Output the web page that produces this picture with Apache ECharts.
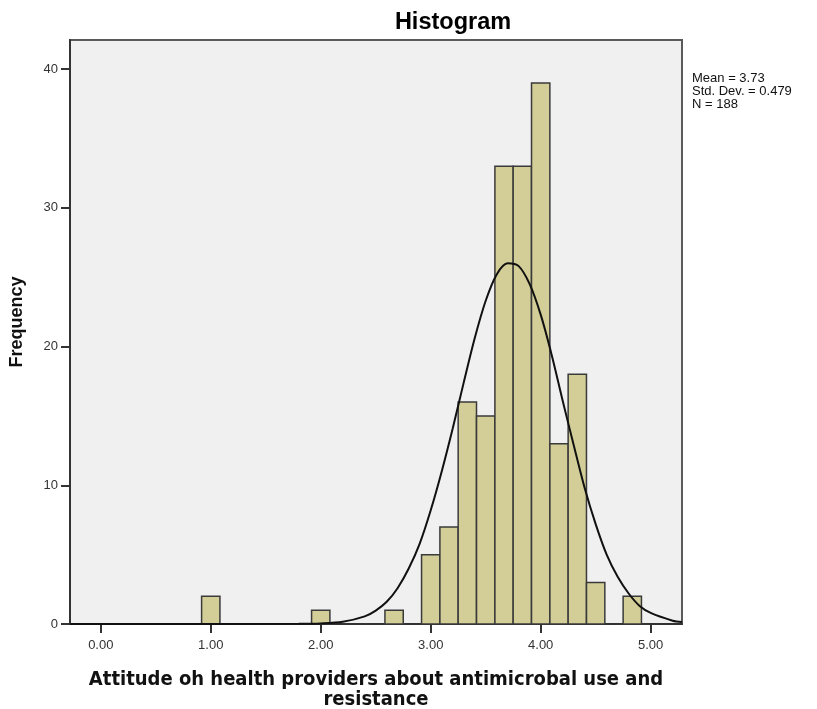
<!DOCTYPE html>
<html>
<head>
<meta charset="utf-8">
<script src="https://cdn.jsdelivr.net/npm/echarts@6/dist/echarts.min.js"></script>
<style>
  html, body { margin: 0; padding: 0; background: #fff; }
  #chart { width: 817px; height: 709px; }
</style>
</head>
<body>
<div id="chart"></div>
<script>
// histogram bins (bin width 1/6)
const binCenters = [1.0, 2.0, 2.667, 3.0, 3.167, 3.333, 3.5, 3.667, 3.833, 4.0, 4.167, 4.333, 4.5, 4.833]
const binCounts = [2, 1, 1, 5, 7, 16, 15, 33, 33, 39, 13, 18, 3, 2]
const binWidth = 1 / 6

// normal curve
const curveX = [-0.28, 1.8, 2.0, 2.2, 2.4, 2.5, 2.6, 2.7, 2.8, 2.9, 3.0, 3.1, 3.2, 3.3, 3.4, 3.5, 3.6, 3.7, 3.8, 3.9, 4.0, 4.1, 4.2, 4.3, 4.4, 4.5, 4.6, 4.7, 4.8, 4.9, 5.0, 5.2, 5.285]
const curveY = [0, 0.01, 0.04, 0.16, 0.55, 0.97, 1.6, 2.6, 4.0, 5.8, 8.2, 11.0, 14.1, 17.4, 20.6, 23.3, 25.2, 26.0, 25.8, 24.5, 22.3, 19.4, 16.1, 12.9, 9.8, 7.2, 5.0, 3.4, 2.2, 1.3, 0.8, 0.24, 0.14]

const xTicks = [0, 1, 2, 3, 4, 5]
const yTicks = [0, 10, 20, 30, 40]

const statsText = ['Mean = 3.73', 'Std. Dev. = 0.479', 'N = 188']

const font = 'Liberation Sans, Arial, sans-serif'

let chart = echarts.init(document.getElementById('chart'))

let option = {
  animation: false,
  backgroundColor: '#ffffff',
  title: {
    text: 'Histogram',
    left: 448,
    top: 6,
    textAlign: 'center',
    textStyle: { fontFamily: font, fontSize: 23.5, fontWeight: 'bold', color: '#000' }
  },
  grid: {
    left: 70,
    top: 40,
    right: 135,
    bottom: 85,
    outerBoundsMode: 'none',
    containLabel: false,
    show: true,
    backgroundColor: '#f0f0f0',
    borderColor: '#5a5a5a',
    borderWidth: 2
  },
  xAxis: {
    type: 'value',
    min: -0.28,
    max: 5.285,
    name: 'Attitude oh health providers about antimicrobal use and\nresistance',
    nameLocation: 'middle',
    nameGap: 46,
    nameTextStyle: { fontFamily: 'DejaVu Sans Condensed, DejaVu Sans, sans-serif', fontSize: 20, fontWeight: 'bold', color: '#111', lineHeight: 20 },
    axisLine: { onZero: false, lineStyle: { color: '#333', width: 2 } },
    axisTick: { customValues: xTicks, length: 9, lineStyle: { color: '#333', width: 2 } },
    axisLabel: {
      customValues: xTicks,
      margin: 15,
      fontFamily: font,
      fontSize: 13,
      color: '#333',
      formatter: (v) => v.toFixed(2)
    },
    splitLine: { show: false }
  },
  yAxis: {
    type: 'value',
    min: 0,
    max: 42.1,
    name: 'Frequency',
    nameLocation: 'middle',
    nameGap: 44,
    nameTextStyle: { fontFamily: font, fontSize: 18, fontWeight: 'bold', color: '#111', padding: [0, 0, 0, 20] },
    axisLine: { onZero: false, lineStyle: { color: '#333', width: 2 } },
    axisTick: { customValues: yTicks, length: 9, lineStyle: { color: '#333', width: 2 } },
    axisLabel: { customValues: yTicks, margin: 12, fontFamily: font, fontSize: 13, color: '#333' },
    splitLine: { show: false }
  },
  graphic: [{
    type: 'text',
    left: 692,
    top: 72,
    style: {
      text: statsText.join('\n'),
      font: '13px ' + font,
      fill: '#111',
      lineHeight: 13
    }
  }],
  series: [
    {
      type: 'custom',
      data: binCenters.map((c, i) => [c, binCounts[i]]),
      renderItem: function (params, api) {
        let c = api.value(0)
        let p0 = api.coord([c - binWidth / 2, api.value(1)])
        let p1 = api.coord([c + binWidth / 2, 0])
        return {
          type: 'rect',
          shape: { x: p0[0], y: p0[1], width: p1[0] - p0[0], height: p1[1] - p0[1] },
          style: { fill: '#d3ce97', stroke: '#3a3a3a', lineWidth: 1.5 }
        }
      },
      z: 2
    },
    {
      type: 'line',
      data: curveX.map((x, i) => [x, curveY[i]]),
      smooth: 0.3,
      showSymbol: false,
      lineStyle: { color: '#111', width: 2 },
      z: 3
    }
  ]
}
chart.setOption(option)
</script>
</body>
</html>
